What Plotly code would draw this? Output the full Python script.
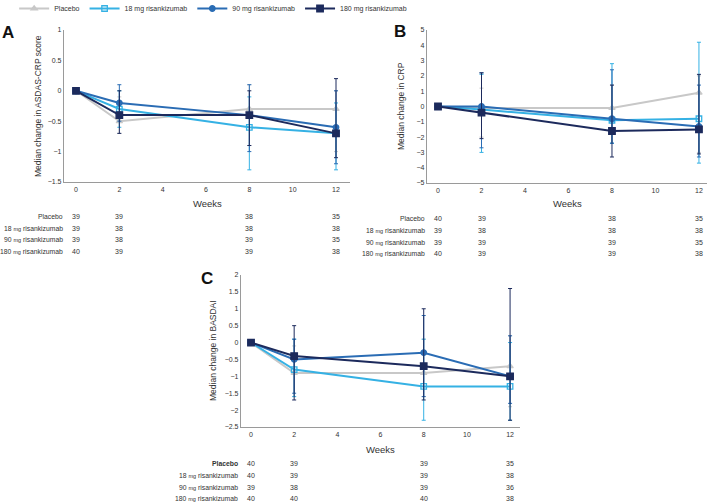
import plotly.graph_objects as go

W, H = 708, 502

weeks = [0, 2, 8, 12]
series_names = ["Placebo", "18 mg risankizumab", "90 mg risankizumab", "180 mg risankizumab"]
row_labels = ["Placebo",
              "18 <span style='font-size:5.5px'>mg</span> risankizumab",
              "90 <span style='font-size:5.5px'>mg</span> risankizumab",
              "180 <span style='font-size:5.5px'>mg</span> risankizumab"]
colors = ["#c8c8c8", "#35b1e4", "#2a6cb4", "#1c2a5c"]
symbols = ["triangle-up", "square-open", "circle", "square"]

# Panel A: ASDAS-CRP (median, lower quartile, upper quartile)
asdas_median = [[0, -0.5, -0.3, -0.3], [0, -0.3, -0.6, -0.7], [0, -0.2, -0.4, -0.6], [0, -0.4, -0.4, -0.7]]
asdas_lower = [[0, -0.7, -0.9, -1.0], [0, -0.6, -1.3, -1.3], [0, -0.5, -1.0, -1.2], [0, -0.7, -0.9, -1.1]]
asdas_upper = [[0, -0.1, 0.1, 0.0], [0, 0.0, -0.1, -0.2], [0, 0.1, 0.1, 0.0], [0, 0.0, 0.0, 0.2]]
asdas_n = [[39, 39, 38, 35], [39, 38, 38, 38], [39, 38, 39, 35], [40, 39, 39, 38]]

# Panel B: CRP
crp_median = [[0, -0.1, -0.1, 0.9], [0, -0.2, -0.9, -0.8], [0, 0.0, -0.8, -1.3], [0, -0.4, -1.6, -1.5]]
crp_lower = [[0, -2.0, -2.4, -3.0], [0, -3.0, -2.4, -3.7], [0, -2.7, -2.4, -3.3], [0, -2.1, -3.3, -3.1]]
crp_upper = [[0, 1.2, 1.4, 2.0], [0, 2.1, 2.8, 4.2], [0, 2.2, 2.4, 1.4], [0, 2.2, 1.4, 2.1]]
crp_n = [[40, 39, 38, 35], [39, 38, 38, 38], [39, 39, 39, 35], [40, 39, 39, 38]]

# Panel C: BASDAI
basdai_median = [[0, -0.9, -0.9, -0.7], [0, -0.8, -1.3, -1.3], [0, -0.5, -0.3, -1.0], [0, -0.4, -0.7, -1.0]]
basdai_lower = [[0, -1.6, -1.6, -1.9], [0, -1.6, -2.3, -2.3], [0, -1.5, -1.6, -1.8], [0, -1.7, -1.7, -2.3]]
basdai_upper = [[0, -0.1, 0.1, 0.2], [0, 0.1, 0.1, 0.0], [0, 0.1, 0.8, 0.2], [0, 0.5, 1.0, 1.6]]
basdai_n = [[40, 39, 39, 35], [40, 39, 39, 38], [39, 38, 39, 36], [40, 40, 40, 38]]

FONT = "Arial, Liberation Sans, sans-serif"
TXT = "#333333"
AX = "#9a9a9a"

fig = go.Figure()

panels = [
    dict(med=asdas_median, lo=asdas_lower, up=asdas_upper, n=asdas_n, xa="x", ya="y"),
    dict(med=crp_median, lo=crp_lower, up=crp_upper, n=crp_n, xa="x2", ya="y2"),
    dict(med=basdai_median, lo=basdai_lower, up=basdai_upper, n=basdai_n, xa="x3", ya="y3"),
]

for pi, p in enumerate(panels):
    for si in range(4):
        med = p["med"][si]
        plus = [u - m for u, m in zip(p["up"][si], med)]
        minus = [m - l for l, m in zip(p["lo"][si], med)]
        fig.add_trace(go.Scatter(
            x=weeks, y=med, xaxis=p["xa"], yaxis=p["ya"],
            mode="lines+markers",
            name=series_names[si],
            showlegend=(pi == 0),
            line=dict(color=colors[si], width=2),
            marker=dict(symbol=symbols[si], size=5.5 if si != 3 else 6.5, color=colors[si],
                        line=dict(color=colors[si], width=1.3)),
            error_y=dict(type="data", symmetric=False, array=plus, arrayminus=minus,
                         color=colors[si], thickness=1, width=2),
        ))

def px_x(v):
    return v / W

def px_y(v):
    return 1 - v / H

axis_common = dict(showgrid=False, zeroline=False, showline=True, linecolor=AX, linewidth=1.2,
                   ticks="", tickfont=dict(size=7, color=TXT, family=FONT))

fig.update_layout(
    width=W, height=H,
    margin=dict(l=0, r=0, t=0, b=0, autoexpand=False),
    paper_bgcolor="white", plot_bgcolor="white",
    font=dict(family=FONT, color=TXT),
    showlegend=True,
    legend=dict(orientation="h", x=0.02, y=1.012, xanchor="left", yanchor="top",
                font=dict(size=7, color=TXT), tracegroupgap=0,
                bgcolor="rgba(0,0,0,0)"),
    xaxis=dict(domain=[px_x(64), px_x(350)], range=[-0.554, 12.646], anchor="y",
               tickvals=[0, 2, 4, 6, 8, 10, 12], **axis_common),
    yaxis=dict(domain=[px_y(182), px_y(30)], range=[-1.5, 1], anchor="x",
               tickvals=[-1.5, -1, -0.5, 0, 0.5, 1], **axis_common),
    xaxis2=dict(domain=[px_x(427), px_x(707)], range=[-0.506, 12.37], anchor="y2",
                tickvals=[0, 2, 4, 6, 8, 10, 12], **axis_common),
    yaxis2=dict(domain=[px_y(183), px_y(30)], range=[-5, 5], anchor="x2",
                tickvals=list(range(-5, 6)), **axis_common),
    xaxis3=dict(domain=[px_x(241), px_x(520)], range=[-0.463, 12.46], anchor="y3",
                tickvals=[0, 2, 4, 6, 8, 10, 12], **axis_common),
    yaxis3=dict(domain=[px_y(427), px_y(275)], range=[-2.5, 2], anchor="x3",
                tickvals=[-2.5, -2, -1.5, -1, -0.5, 0, 0.5, 1, 1.5, 2], **axis_common),
)

ann = []
# panel letters
for letter, (lx, ly) in zip(["A", "B", "C"], [(8, 33), (400, 32), (207, 278)]):
    ann.append(dict(text=f"<b>{letter}</b>", x=px_x(lx), y=px_y(ly), xref="paper", yref="paper",
                    showarrow=False, font=dict(size=17, color="#111111", family=FONT),
                    xanchor="center", yanchor="middle"))
# y titles
for t, (tx, ty) in zip(["Median change in ASDAS-CRP score", "Median change in CRP", "Median change in BASDAI"],
                       [(38, 106), (401, 106), (213, 350)]):
    ann.append(dict(text=t, x=px_x(tx), y=px_y(ty), xref="paper", yref="paper", textangle=-90,
                    showarrow=False, font=dict(size=8.5, color=TXT, family=FONT),
                    xanchor="center", yanchor="middle"))
# Weeks titles
for (tx, ty) in [(207, 203), (567, 203), (380, 449)]:
    ann.append(dict(text="Weeks", x=px_x(tx), y=px_y(ty), xref="paper", yref="paper",
                    showarrow=False, font=dict(size=9.5, color=TXT, family=FONT),
                    xanchor="center", yanchor="middle"))

# at-risk tables
tables = [
    dict(n=asdas_n, xref="x", labx=65, rows=[216, 228, 239, 251], bold=False),
    dict(n=crp_n, xref="x2", labx=427, rows=[218, 230, 242, 253], bold=False),
    dict(n=basdai_n, xref="x3", labx=240, rows=[463, 475, 487, 498], bold=True),
]
for tb in tables:
    for ri in range(4):
        lab = row_labels[ri]
        if tb["bold"] and ri == 0:
            lab = "<b>Placebo</b>"
        ann.append(dict(text=lab, x=px_x(tb["labx"]), y=px_y(tb["rows"][ri]), xref="paper", yref="paper",
                        showarrow=False, font=dict(size=6.8, color=TXT, family=FONT),
                        xanchor="right", yanchor="middle"))
        for wi, wk in enumerate(weeks):
            ann.append(dict(text=str(tb["n"][ri][wi]), x=wk, y=px_y(tb["rows"][ri]), xref=tb["xref"], yref="paper",
                            showarrow=False, font=dict(size=7, color=TXT, family=FONT),
                            xanchor="center", yanchor="middle"))

fig.update_layout(annotations=ann)

fig.write_html("out.html", config={"displayModeBar": False},
               post_script="document.body.style.margin='0px';document.body.style.padding='0px';document.body.style.overflow='hidden';")
